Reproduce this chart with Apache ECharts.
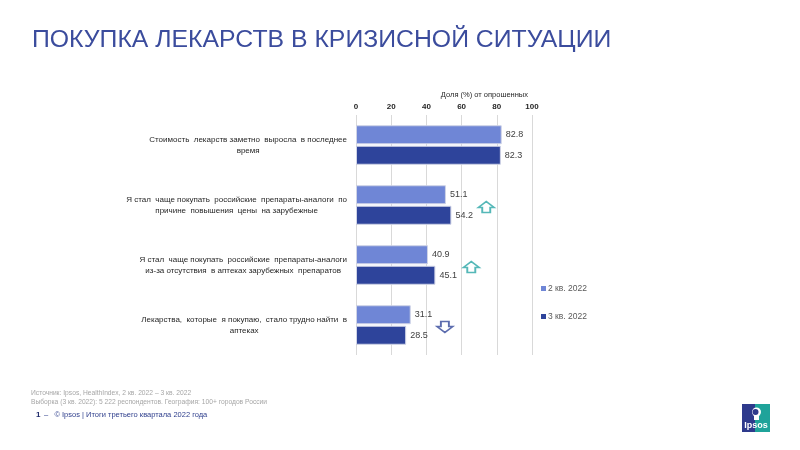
<!DOCTYPE html>
<html>
<head>
<meta charset="utf-8">
<script src="https://cdn.jsdelivr.net/npm/echarts@6/dist/echarts.min.js"></script>
<style>html,body{margin:0;padding:0;background:#fff}#c{width:800px;height:450px}</style>
</head>
<body>
<div id="c"></div>
<script>
var categories = [
  ['Стоимость  лекарств заметно  выросла  в последнее', 'время'],
  ['Я стал  чаще покупать  российские  препараты-аналоги  по', 'причине  повышения  цены  на зарубежные'],
  ['Я стал  чаще покупать  российские  препараты-аналоги', 'из-за отсутствия  в аптеках зарубежных  препаратов'],
  ['Лекарства,  которые  я покупаю,  стало трудно найти  в', 'аптеках']
];
var seriesNames = ['2 кв. 2022', '3 кв. 2022'];
var q2Values = [82.8, 51.1, 40.9, 31.1];
var q3Values = [82.3, 54.2, 45.1, 28.5];
var xTicks = [0, 20, 40, 60, 80, 100];
var arrowCategories = [1, 2, 3];
var arrowX = [74, 65.5, 50.5];
var arrowDir = ['up', 'up', 'down'];

var FONT = "'Liberation Sans', Arial, sans-serif";
var UP = 'path://M8,0 L16,6 L12,6 L12,11 L4,11 L4,6 L0,6 Z';
var DOWN = 'path://M4,0 L12,0 L12,5 L16,5 L8,11 L0,5 L4,5 Z';
var catKeys = categories.map(function (c, i) { return 'c' + i; });

var arrowData = arrowCategories.map(function (ci, i) {
  var up = arrowDir[i] === 'up';
  return {
    value: [arrowX[i], catKeys[ci]],
    symbol: up ? UP : DOWN,
    symbolOffset: [0, 2],
    itemStyle: { color: '#ffffff', borderColor: up ? '#2BA6A6' : '#33479A', borderWidth: 1.6 }
  };
});

var chart = echarts.init(document.getElementById('c'), null, { renderer: 'canvas' });
chart.setOption({
  animation: false,
  textStyle: { fontFamily: FONT },
  grid: { left: 356, right: 268, top: 115, bottom: 95, containLabel: false },
  xAxis: {
    type: 'value', position: 'top', min: 0, max: 100, interval: 20,
    axisLine: { show: false }, axisTick: { show: false },
    axisLabel: { fontSize: 8, fontWeight: 'bold', color: '#262626', margin: 4, fontFamily: FONT,
      formatter: function (v) { return xTicks.indexOf(v) >= 0 ? String(v) : ''; } },
    splitLine: { show: true, lineStyle: { color: '#d9d9d9', width: 1 } }
  },
  yAxis: {
    type: 'category', inverse: true, data: catKeys,
    axisLine: { show: false }, axisTick: { show: false },
    axisLabel: {
      margin: 9, align: 'right', fontFamily: FONT,
      formatter: function (v) {
        var c = categories[catKeys.indexOf(v)];
        return c.map(function (l) { return '{c|' + l + '}'; }).join('\n');
      },
      rich: { c: { fontSize: 8, color: '#262626', align: 'center', lineHeight: 11, fontFamily: FONT } }
    }
  },
  legend: {
    data: seriesNames, orient: 'vertical', left: 536, top: 279,
    itemWidth: 5, itemHeight: 5, itemGap: 19, icon: 'rect',
    itemStyle: { borderWidth: 0 },
    textStyle: { fontSize: 8.5, color: '#595959', fontFamily: FONT, padding: [0, 0, 0, -3] }
  },
  series: [
    {
      name: seriesNames[0], type: 'bar', data: q2Values, barWidth: 19, barGap: '8%',
      itemStyle: { color: '#6F86D6', borderColor: '#cfd3e6', borderWidth: 1 },
      label: { show: true, position: 'right', distance: 4, fontSize: 9, color: '#404040', fontFamily: FONT,
        formatter: function (p) { return p.value.toFixed(1); } }
    },
    {
      name: seriesNames[1], type: 'bar', data: q3Values, barWidth: 19,
      itemStyle: { color: '#2E449B', borderColor: '#cfd3e6', borderWidth: 1 },
      label: { show: true, position: 'right', distance: 4, fontSize: 9, color: '#404040', fontFamily: FONT,
        formatter: function (p) { return p.value.toFixed(1); } }
    },
    {
      name: 'arrows', type: 'scatter', data: arrowData, symbolSize: [16, 11], z: 5
    }
  ],
  graphic: [
    { type: 'text', left: 32, top: 28, style: { text: 'ПОКУПКА ЛЕКАРСТВ В КРИЗИСНОЙ СИТУАЦИИ', font: '24.8px ' + FONT, fill: '#3B4C9D' } },
    { type: 'text', right: 272, top: 91, style: { text: 'Доля (%) от опрошенных', font: '7.5px ' + FONT, fill: '#262626' } },
    { type: 'text', left: 31, top: 390, style: { text: 'Источник: Ipsos, HealthIndex, 2 кв. 2022 – 3 кв. 2022', font: '6.7px ' + FONT, fill: '#a6a6a6' } },
    { type: 'text', left: 31, top: 399, style: { text: 'Выборка (3 кв. 2022): 5 222 респондентов. География: 100+ городов России', font: '6.7px ' + FONT, fill: '#a6a6a6' } },
    { type: 'text', left: 36, top: 411, style: { text: '1', font: 'bold 8px ' + FONT, fill: '#1F2B6B' } },
    { type: 'text', left: 44, top: 411, style: { text: '–   © Ipsos | Итоги третьего квартала 2022 года', font: '7.5px ' + FONT, fill: '#2E3E8C' } },
    { type: 'group', left: 742, top: 404, children: [
      { type: 'rect', shape: { x: 0, y: 0, width: 28, height: 28 }, style: { fill: '#1FA39A' } },
      { type: 'rect', shape: { x: 0, y: 0, width: 13, height: 28 }, style: { fill: '#2E3A8C' } },
      { type: 'circle', shape: { cx: 14.5, cy: 8, r: 4.5 }, style: { fill: '#ffffff' } },
      { type: 'rect', shape: { x: 12, y: 11, width: 5, height: 5 }, style: { fill: '#ffffff' } },
      { type: 'circle', shape: { cx: 13.5, cy: 8, r: 3 }, style: { fill: '#2E3A8C' } },
      { type: 'text', x: 14, y: 22, style: { text: 'Ipsos', font: 'bold 9px ' + FONT, fill: '#ffffff', textAlign: 'center', textVerticalAlign: 'middle' } }
    ] }
  ]
});
</script>
</body>
</html>
